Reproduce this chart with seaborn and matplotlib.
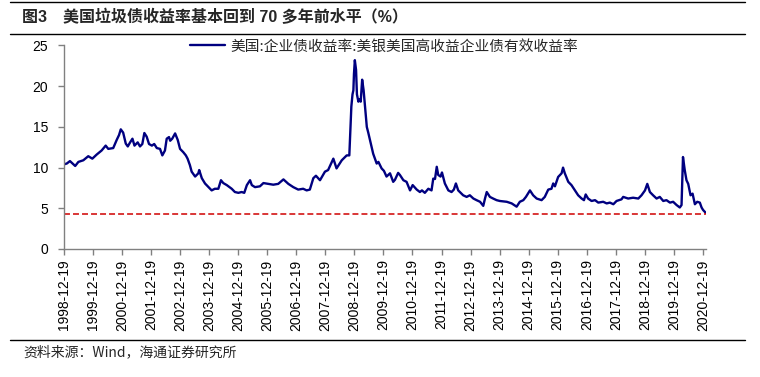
import numpy as np
import pandas as pd
import seaborn as sns
import matplotlib.pyplot as plt
from matplotlib.lines import Line2D

# decimal year -> yield (%)
years = [
    1998.965, 1999.06, 1999.17, 1999.35, 1999.46, 1999.63, 1999.80, 1999.94,
    2000.09, 2000.26, 2000.40, 2000.49, 2000.66, 2000.78, 2000.86, 2000.92,
    2001.00, 2001.09, 2001.16, 2001.24, 2001.32, 2001.39, 2001.50, 2001.58,
    2001.66, 2001.73, 2001.81, 2001.89, 2001.99, 2002.07, 2002.16, 2002.27,
    2002.35, 2002.44, 2002.50, 2002.58, 2002.62, 2002.69, 2002.79, 2002.88,
    2002.96, 2003.07, 2003.16, 2003.22, 2003.30, 2003.36, 2003.48, 2003.59,
    2003.62, 2003.71, 2003.82, 2003.93, 2004.05, 2004.16, 2004.28, 2004.37,
    2004.45, 2004.57, 2004.74, 2004.85, 2004.97, 2005.08, 2005.17, 2005.26,
    2005.37, 2005.43, 2005.54, 2005.71, 2005.83, 2006.00, 2006.17, 2006.34,
    2006.52, 2006.69, 2006.86, 2007.03, 2007.20, 2007.32, 2007.43, 2007.55,
    2007.64, 2007.78, 2007.95, 2008.06, 2008.24, 2008.35, 2008.53, 2008.70,
    2008.79, 2008.83, 2008.86, 2008.90, 2008.93, 2008.95, 2008.98, 2009.02,
    2009.05, 2009.10, 2009.14, 2009.18, 2009.23, 2009.28, 2009.33, 2009.39,
    2009.44, 2009.50, 2009.61, 2009.73, 2009.79, 2009.90, 2009.98, 2010.07,
    2010.19, 2010.30, 2010.36, 2010.47, 2010.53, 2010.65, 2010.76, 2010.88,
    2010.97, 2011.11, 2011.22, 2011.29, 2011.39, 2011.51, 2011.62, 2011.68,
    2011.74, 2011.80, 2011.85, 2011.93, 2011.98, 2012.08, 2012.20, 2012.31,
    2012.39, 2012.46, 2012.54, 2012.71, 2012.83, 2012.94, 2013.06, 2013.17,
    2013.29, 2013.40, 2013.46, 2013.52, 2013.63, 2013.74, 2013.86, 2013.97,
    2014.21, 2014.38, 2014.55, 2014.66, 2014.78, 2014.87, 2015.01, 2015.12,
    2015.24, 2015.41, 2015.52, 2015.64, 2015.75, 2015.81, 2015.87, 2015.98,
    2016.10, 2016.15, 2016.21, 2016.33, 2016.44, 2016.56, 2016.67, 2016.79,
    2016.87, 2016.93, 2017.01, 2017.13, 2017.25, 2017.36, 2017.53, 2017.65,
    2017.76, 2017.88, 2017.99, 2018.16, 2018.22, 2018.39, 2018.56, 2018.74,
    2018.85, 2018.97, 2019.05, 2019.14, 2019.25, 2019.37, 2019.48, 2019.60,
    2019.71, 2019.83, 2019.94, 2020.06, 2020.17, 2020.23, 2020.28, 2020.34,
    2020.40, 2020.46, 2020.54, 2020.61, 2020.69, 2020.77, 2020.86, 2020.92,
    2020.97, 2021.06,
]
yields = [
    10.4, 10.5, 10.8, 10.2, 10.7, 10.9, 11.4, 11.1,
    11.6, 12.1, 12.7, 12.3, 12.4, 13.4, 14.0, 14.7,
    14.3, 12.95, 12.6, 13.1, 13.55, 12.7, 13.1, 12.6,
    12.9, 14.25, 13.8, 12.9, 12.7, 12.9, 12.4, 12.3,
    11.5, 12.1, 13.55, 13.75, 13.3, 13.55, 14.2, 13.4,
    12.3, 11.9, 11.5, 11.1, 10.3, 9.5, 8.9, 9.3,
    9.7, 8.7, 8.05, 7.65, 7.2, 7.4, 7.4, 8.45,
    8.1, 7.85, 7.4, 7.0, 6.9, 7.0, 6.9, 7.85,
    8.45, 7.85, 7.6, 7.7, 8.1, 8.0, 7.9, 8.0,
    8.55, 8.0, 7.6, 7.3, 7.4, 7.2, 7.3, 8.7,
    9.0, 8.45, 9.5, 9.7, 11.1, 9.9, 10.9, 11.5,
    11.5, 15.0, 17.5, 19.0, 19.5, 21.5, 23.2, 22.0,
    19.0, 18.1, 18.4, 18.1, 20.8, 19.5, 17.5, 15.0,
    14.3, 13.4, 11.7, 10.5, 10.7, 9.9, 9.6, 8.9,
    9.3, 8.25, 8.5, 9.35, 9.1, 8.45, 8.25, 7.2,
    7.85, 7.3, 7.0, 7.2, 6.9, 7.4, 7.2, 8.65,
    8.6, 10.1, 9.1, 8.9, 9.4, 8.05, 7.2, 7.0,
    7.3, 8.05, 7.2, 6.6, 6.4, 6.6, 6.2, 6.0,
    5.8, 5.3, 6.2, 7.0, 6.4, 6.2, 6.0, 5.9,
    5.8, 5.6, 5.2, 5.8, 6.0, 6.4, 7.2, 6.6,
    6.2, 6.0, 6.4, 7.3, 7.4, 8.05, 7.7, 8.85,
    9.3, 10.0, 9.3, 8.25, 7.85, 7.2, 6.6, 6.2,
    6.0, 6.7, 6.2, 5.9, 6.0, 5.7, 5.8, 5.6,
    5.7, 5.5, 5.9, 6.1, 6.4, 6.2, 6.3, 6.2,
    6.6, 7.2, 8.0, 7.0, 6.6, 6.2, 6.4, 5.9,
    6.0, 5.7, 5.8, 5.4, 5.1, 5.4, 11.3, 9.7,
    8.45, 8.0, 6.6, 6.8, 5.5, 5.8, 5.7, 5.1,
    4.8, 4.45,
]
ref_level = 4.3
tick_labels = [f"{y}-12-19" for y in range(1998, 2021)]
series_name = "美国:企业债收益率:美银美国高收益企业债有效收益率"
title = "图3　美国垃圾债收益率基本回到 70 多年前水平（%）"
source = "资料来源：Wind，海通证券研究所"


def to_date(y):
    yr = int(y)
    return pd.Timestamp(year=yr, month=1, day=1) + pd.Timedelta(days=(y - yr) * 365.25)


df = pd.DataFrame({"date": [to_date(y) for y in years], "value": yields})

sns.set_style("ticks")
plt.rcParams["font.family"] = ["Liberation Sans", "Noto Sans CJK SC"]
plt.rcParams["axes.unicode_minus"] = False

fig = plt.figure(figsize=(7.6, 3.77), dpi=100)
ax = fig.add_axes([64 / 760, 1 - 249 / 377, 641.7 / 760, 203.5 / 377])

sns.lineplot(data=df, x="date", y="value", ax=ax, color="#000080",
             linewidth=1.7, label=series_name)
ax.axhline(ref_level, color="#D00000", linewidth=1.1, dashes=(3.9, 2.0))

ax.set_ylim(0, 25)
ax.set_yticks([0, 5, 10, 15, 20, 25])
ax.set_xlim(df["date"].iloc[0], df["date"].iloc[-1])
ax.set_xticks(pd.to_datetime(tick_labels))
ax.set_xticklabels(tick_labels, rotation=90)
ax.set_xlabel("")
ax.set_ylabel("")

for side in ["top", "right"]:
    ax.spines[side].set_visible(False)
for side in ["left", "bottom"]:
    ax.spines[side].set_color("#808080")
    ax.spines[side].set_linewidth(1.0)
ax.tick_params(axis="both", direction="out", length=4.5, width=1.0,
               color="#808080", labelsize=10, labelcolor="black")
ax.tick_params(axis="y", pad=7)
ax.tick_params(axis="x", pad=3)

ax.legend(loc="upper left", bbox_to_anchor=(0.196, 1.03), frameon=False,
          borderaxespad=0, borderpad=0, handlelength=2.4, handletextpad=0.35,
          prop={"family": ["Noto Sans CJK SC"], "size": 10.6})

fig.text(22 / 760, 1 - 16.5 / 377, title, fontsize=11.5, fontweight="bold",
         va="center", ha="left")
fig.text(23 / 760, 1 - 352.3 / 377, source, fontsize=10, va="center", ha="left",
         family=["Noto Sans CJK SC", "Liberation Sans"])

for yy in [1.7, 34.3, 339.5]:
    fig.add_artist(Line2D([10 / 760, 745 / 760], [1 - yy / 377] * 2,
                          color="black", linewidth=1.0))

fig.savefig("out.png", dpi=100)
